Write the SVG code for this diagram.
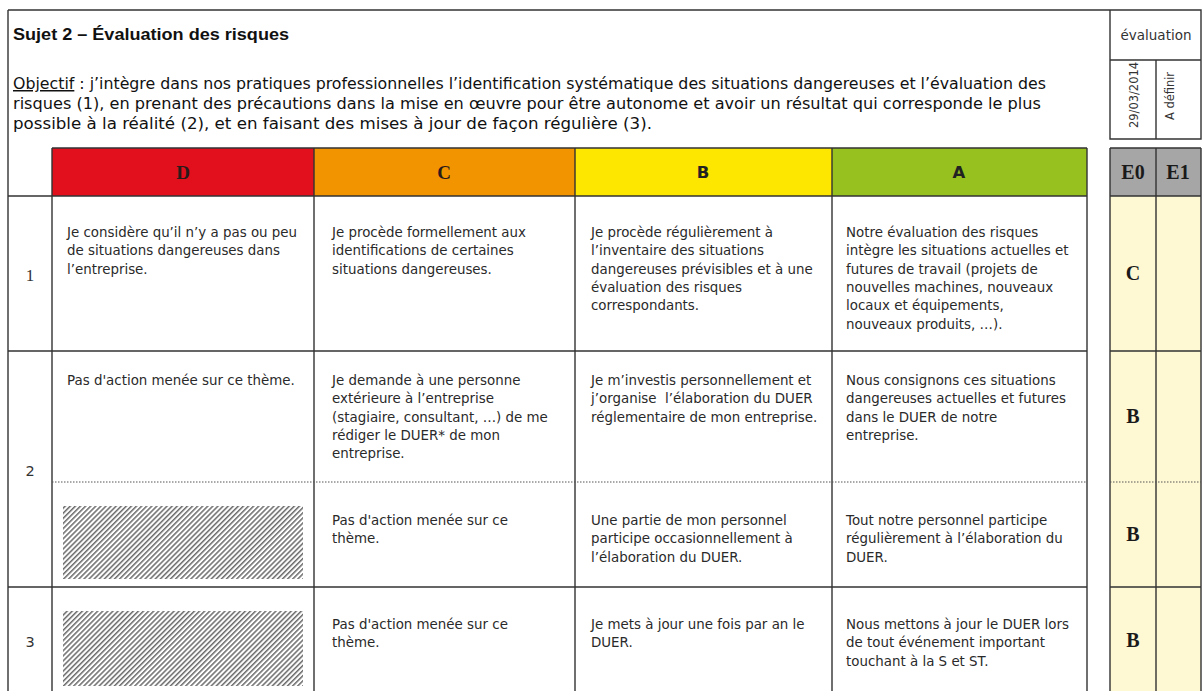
<svg xmlns="http://www.w3.org/2000/svg" width="1203" height="691" viewBox="0 0 1203 691">
<style>
.ln{stroke:#333;stroke-width:1.4;fill:none}
.dot{stroke:#555;stroke-width:1;stroke-dasharray:1.5 1.5;fill:none}
.t{font-family:"DejaVu Sans",Verdana,sans-serif;font-size:13.4px;fill:#2a2a2a}
.obj{font-family:"DejaVu Sans Condensed","DejaVu Sans",sans-serif;font-size:15px;fill:#111}
.title{font-family:"Liberation Sans",Arial,sans-serif;font-size:16px;font-weight:bold;fill:#111}
.hs{font-family:"Liberation Serif","Times New Roman",serif;font-size:19px;font-weight:bold;fill:#2a1a1a;text-anchor:middle}
.hsa{font-family:"DejaVu Sans",Verdana,sans-serif;font-size:16.5px;font-weight:bold;fill:#222;text-anchor:middle}
.num{font-family:"DejaVu Sans",Verdana,sans-serif;font-size:14.5px;fill:#333;text-anchor:middle}
.numS{font-family:"Liberation Serif","Times New Roman",serif;font-size:17px;fill:#333;text-anchor:middle}
.grade{font-family:"Liberation Serif","Times New Roman",serif;font-size:20px;font-weight:bold;fill:#1a1a1a;text-anchor:middle}
.small{font-family:"DejaVu Sans Condensed","DejaVu Sans",sans-serif;font-size:13.5px;fill:#333}
</style>
<defs>
<pattern id="hatch" patternUnits="userSpaceOnUse" width="3.6" height="3.6" patternTransform="rotate(45)">
<rect width="3.6" height="3.6" fill="#fff"/>
<line x1="0.8" y1="0" x2="0.8" y2="3.6" stroke="#333" stroke-width="1.1"/>
</pattern>
</defs>
<rect width="1203" height="691" fill="#fff"/>

<g id="header">
<text class="title" x="13" y="40" textLength="276" lengthAdjust="spacingAndGlyphs">Sujet 2 – Évaluation des risques</text>
<text class="obj" x="13" y="89" textLength="1033" lengthAdjust="spacingAndGlyphs"><tspan text-decoration="underline">Objectif</tspan> : j’intègre dans nos pratiques professionnelles l’identification systématique des situations dangereuses et l’évaluation des</text>
<text class="obj" x="13" y="109" textLength="1028" lengthAdjust="spacingAndGlyphs">risques (1), en prenant des précautions dans la mise en œuvre pour être autonome et avoir un résultat qui corresponde le plus</text>
<text class="obj" x="13" y="129" textLength="639" lengthAdjust="spacingAndGlyphs">possible à la réalité (2), et en faisant des mises à jour de façon régulière (3).</text>
</g>

<g id="eval-panel">
<rect x="1110" y="148" width="91" height="48" fill="#a6a6a6"/>
<rect x="1110" y="196" width="91" height="495" fill="#fef8d3"/>
<text class="small" x="1156" y="40" text-anchor="middle" textLength="71" lengthAdjust="spacingAndGlyphs">évaluation</text>
<text class="small" style="font-size:12.5px" transform="translate(1137.5,95) rotate(-90)" text-anchor="middle" textLength="66" lengthAdjust="spacingAndGlyphs">29/03/2014</text>
<text class="small" style="font-size:12px" transform="translate(1174,96) rotate(-90)" text-anchor="middle" textLength="48" lengthAdjust="spacingAndGlyphs">A définir</text>
<text class="grade" x="1133" y="179">E0</text>
<text class="grade" x="1178" y="179">E1</text>
<text class="grade" x="1133" y="280">C</text>
<text class="grade" x="1133" y="423">B</text>
<text class="grade" x="1133" y="541">B</text>
<text class="grade" x="1133" y="647">B</text>
</g>

<g id="level-headers">
<rect x="52" y="148" width="262" height="48" fill="#e2101c"/>
<rect x="314" y="148" width="261" height="48" fill="#f29300"/>
<rect x="575" y="148" width="257" height="48" fill="#fde600"/>
<rect x="832" y="148" width="255" height="48" fill="#97c11f"/>
<text class="hs" x="183" y="179">D</text>
<text class="hs" x="444" y="179">C</text>
<text class="hsa" x="703" y="178">B</text>
<text class="hsa" x="959" y="178">A</text>
</g>

<g id="row-numbers">
<text class="numS" x="30" y="281">1</text>
<text class="num" x="30" y="476">2</text>
<text class="num" x="30" y="647">3</text>
</g>

<g id="row1">
<text class="t"><tspan x="67" y="237">Je considère qu’il n’y a pas ou peu</tspan><tspan x="67" y="255.3">de situations dangereuses dans</tspan><tspan x="67" y="273.6">l’entreprise.</tspan></text>
<text class="t"><tspan x="332" y="237">Je procède formellement aux</tspan><tspan x="332" y="255.3">identifications de certaines</tspan><tspan x="332" y="273.6">situations dangereuses.</tspan></text>
<text class="t"><tspan x="591" y="237">Je procède régulièrement à</tspan><tspan x="591" y="255.3">l’inventaire des situations</tspan><tspan x="591" y="273.6">dangereuses prévisibles et à une</tspan><tspan x="591" y="291.9">évaluation des risques</tspan><tspan x="591" y="310.2">correspondants.</tspan></text>
<text class="t"><tspan x="846" y="237">Notre évaluation des risques</tspan><tspan x="846" y="255.3">intègre les situations actuelles et</tspan><tspan x="846" y="273.6">futures de travail (projets de</tspan><tspan x="846" y="291.9">nouvelles machines, nouveaux</tspan><tspan x="846" y="310.2">locaux et équipements,</tspan><tspan x="846" y="328.5">nouveaux produits, …).</tspan></text>
</g>

<g id="row2a">
<text class="t"><tspan x="67" y="385">Pas d'action menée sur ce thème.</tspan></text>
<text class="t"><tspan x="332" y="385">Je demande à une personne</tspan><tspan x="332" y="403.3">extérieure à l’entreprise</tspan><tspan x="332" y="421.6">(stagiaire, consultant, …) de me</tspan><tspan x="332" y="439.9">rédiger le DUER* de mon</tspan><tspan x="332" y="458.2">entreprise.</tspan></text>
<text class="t"><tspan x="591" y="385">Je m’investis personnellement et</tspan><tspan x="591" y="403.3" xml:space="preserve">j’organise  l’élaboration du DUER</tspan><tspan x="591" y="421.6">réglementaire de mon entreprise.</tspan></text>
<text class="t"><tspan x="846" y="385">Nous consignons ces situations</tspan><tspan x="846" y="403.3">dangereuses actuelles et futures</tspan><tspan x="846" y="421.6">dans le DUER de notre</tspan><tspan x="846" y="439.9">entreprise.</tspan></text>
</g>

<g id="row2b">
<rect x="63" y="506" width="240" height="73" fill="url(#hatch)"/>
<text class="t"><tspan x="332" y="525">Pas d'action menée sur ce</tspan><tspan x="332" y="543.3">thème.</tspan></text>
<text class="t"><tspan x="591" y="525">Une partie de mon personnel</tspan><tspan x="591" y="543.3">participe occasionnellement à</tspan><tspan x="591" y="561.6">l’élaboration du DUER.</tspan></text>
<text class="t"><tspan x="846" y="525">Tout notre personnel participe</tspan><tspan x="846" y="543.3">régulièrement à l’élaboration du</tspan><tspan x="846" y="561.6">DUER.</tspan></text>
</g>

<g id="row3">
<rect x="63" y="611" width="240" height="75" fill="url(#hatch)"/>
<text class="t"><tspan x="332" y="629">Pas d'action menée sur ce</tspan><tspan x="332" y="647.3">thème.</tspan></text>
<text class="t"><tspan x="591" y="629">Je mets à jour une fois par an le</tspan><tspan x="591" y="647.3">DUER.</tspan></text>
<text class="t"><tspan x="846" y="629">Nous mettons à jour le DUER lors</tspan><tspan x="846" y="647.3">de tout événement important</tspan><tspan x="846" y="665.6">touchant à la S et ST.</tspan></text>
</g>

<g id="grid">
<path class="ln" d="M8 10H1201V139H1110V10M1110 60H1201M1156 60V139M8 10V691"/>
<path class="ln" d="M52 148H1087M8 196H1087M8 351H1087M8 587H1087"/>
<path class="ln" d="M52 148V691M314 148V691M575 148V691M832 148V691M1087 148V691"/>
<path class="ln" d="M1110 148H1201M1110 196H1201M1110 351H1201M1110 587H1201M1110 148V691M1156 148V691M1201 148V691"/>
<path class="dot" d="M52 482H1087M1110 482H1201"/>
</g>
</svg>
